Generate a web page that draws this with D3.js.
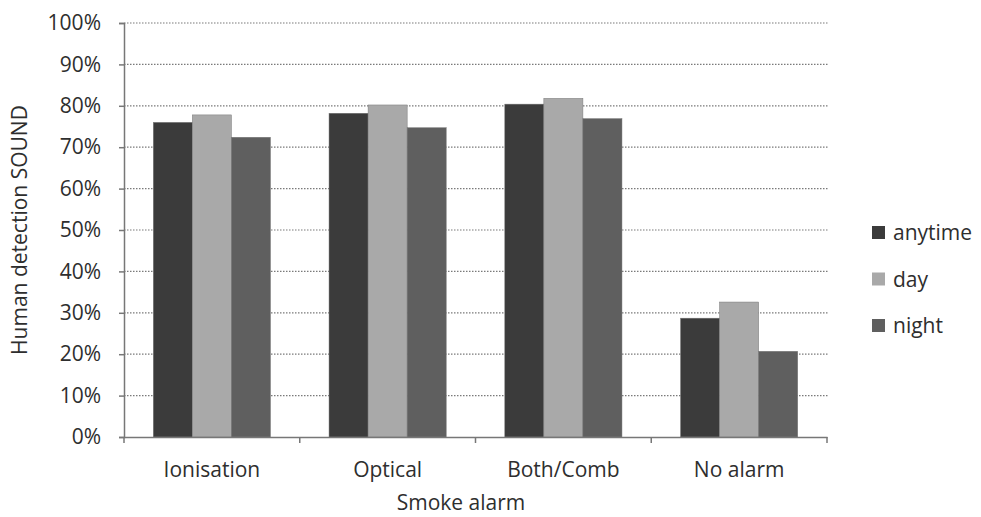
<!DOCTYPE html>
<html><head><meta charset="utf-8">
<script src="https://cdn.jsdelivr.net/npm/d3@7/dist/d3.min.js"></script>
<style>body{margin:0;background:#fff;} text{font-family:"Open Sans",Lato,sans-serif;fill:#2e2e2e;}</style>
</head><body><svg id="c" width="981" height="517"></svg>
<script>
const categories = ["Ionisation","Optical","Both/Comb","No alarm"];
const seriesNames = ["anytime","day","night"];
const anytime = [0.76,0.782,0.804,0.287];
const day = [0.778,0.802,0.818,0.326];
const night = [0.724,0.747,0.769,0.207];
const yTicks = [0,0.1,0.2,0.3,0.4,0.5,0.6,0.7,0.8,0.9,1.0];
const colors = ["#3b3b3b","#a9a9a9","#5f5f5f"];

const values = [anytime, day, night];
const FONT = "'Open Sans',Lato,sans-serif";
const FS = 21;
const svg = d3.select("#c");
const L=124, R=827, T=23, B=437;
const x = d3.scaleBand().domain(categories).range([L,R]).paddingInner(0).paddingOuter(0);
const xs = d3.scaleBand().domain(seriesNames).range([0,x.bandwidth()]).paddingOuter(0.75).paddingInner(0);
const y = d3.scaleLinear().domain([0,1]).range([B,T]);

// gridlines
svg.append("g").selectAll("line").data(yTicks.slice(1)).join("line")
  .attr("x1",L).attr("x2",R+2).attr("y1",d=>y(d)).attr("y2",d=>y(d))
  .attr("stroke","#7a7a7a").attr("stroke-width",1.2).attr("stroke-dasharray","1.5,1.5");

// bars
categories.forEach((c,ci)=>{
  seriesNames.forEach((s,si)=>{
    svg.append("rect").attr("x",x(c)+xs(s)).attr("width",xs.bandwidth())
      .attr("y",y(values[si][ci])).attr("height",B-y(values[si][ci]))
      .attr("fill",colors[si]).attr("stroke","#777").attr("stroke-width",0.5);
  });
});

// y axis
const ya = svg.append("g").attr("transform",`translate(${L},0)`)
  .call(d3.axisLeft(y).tickValues(yTicks).tickFormat(d3.format(".0%")).tickSize(5).tickPadding(18));
ya.select(".domain").attr("stroke","#777").attr("stroke-width",1.5);
ya.selectAll(".tick line").attr("stroke","#777").attr("stroke-width",1.5);
ya.selectAll(".tick text").attr("font-size",FS).attr("fill","#2e2e2e").attr("font-family",FONT);

// x axis
const xa = svg.append("g").attr("transform",`translate(0,${B})`)
  .call(d3.axisBottom(x).tickSize(0).tickPadding(25));
xa.select(".domain").attr("stroke","#777").attr("stroke-width",1.5);
xa.selectAll(".tick text").attr("font-size",FS).attr("fill","#2e2e2e").attr("font-family",FONT);
const bounds = categories.map(c=>x(c)).concat([R]);
svg.append("g").selectAll("line").data(bounds).join("line")
  .attr("x1",d=>d).attr("x2",d=>d).attr("y1",B).attr("y2",B+6)
  .attr("stroke","#777").attr("stroke-width",1.5);

// titles
svg.append("text").attr("x",461).attr("y",510).attr("text-anchor","middle").attr("font-size",FS).text("Smoke alarm");
svg.append("text").attr("transform","translate(27,230) rotate(-90)").attr("text-anchor","middle").attr("font-size",FS).text("Human detection SOUND");

// legend
const lg = svg.append("g");
seriesNames.forEach((s,i)=>{
  const base = 240 + i*46.5;
  lg.append("rect").attr("x",872).attr("y",base-14).attr("width",13).attr("height",13).attr("fill",colors[i]);
  lg.append("text").attr("x",893).attr("y",base).attr("font-size",FS).text(s);
});
</script></body></html>
